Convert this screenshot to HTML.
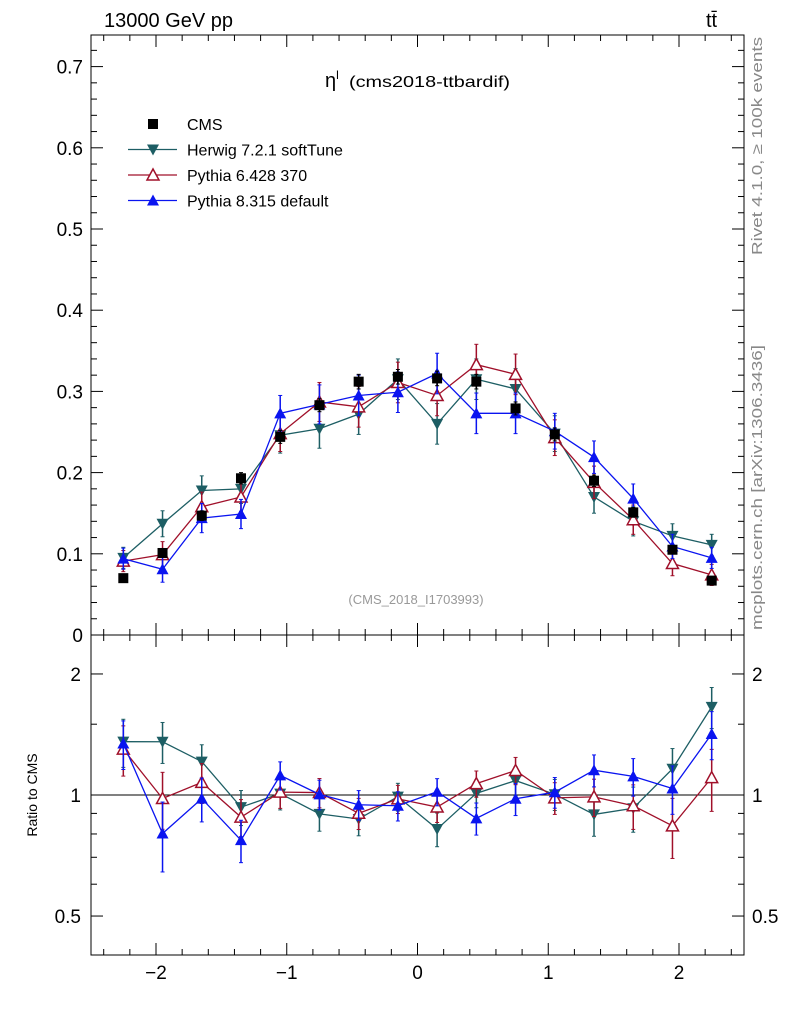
<!DOCTYPE html>
<html><head><meta charset="utf-8"><style>
body{margin:0;background:#fff;width:786px;height:1024px;overflow:hidden}
svg text{font-family:"Liberation Sans",sans-serif}
</style></head><body>
<svg id="c" width="786" height="1024" xmlns="http://www.w3.org/2000/svg">
<text x="104" y="27" font-size="20">13000 GeV pp</text>
<text x="706" y="27" font-size="20">tt̄</text>
<text x="325" y="87" font-size="20">η<tspan font-size="12" dy="-8">l</tspan><tspan font-size="16" dy="8" x="349" textLength="161" lengthAdjust="spacingAndGlyphs">(cms2018-ttbardif)</tspan></text>
<text x="416" y="604" font-size="13" fill="#999" text-anchor="middle">(CMS_2018_I1703993)</text>
<text transform="translate(762,255) rotate(-90)" font-size="15" fill="#888" textLength="218" lengthAdjust="spacingAndGlyphs">Rivet 4.1.0, ≥ 100k events</text>
<text transform="translate(762,630) rotate(-90)" font-size="15" fill="#888" textLength="285" lengthAdjust="spacingAndGlyphs">mcplots.cern.ch [arXiv:1306.3436]</text>
<text transform="translate(37,795) rotate(-90)" font-size="14" text-anchor="middle">Ratio to CMS</text>
<g id="g"></g>
</svg>
<script>
const centers=[-2.25,-1.95,-1.65,-1.35,-1.05,-0.75,-0.45,-0.15,0.15,0.45,0.75,1.05,1.35,1.65,1.95,2.25];
const cmsVals=[0.070,0.101,0.147,0.193,0.244,0.283,0.312,0.318,0.316,0.312,0.279,0.247,0.190,0.151,0.105,0.067];
const cmsErr=[0.004,0.005,0.006,0.007,0.008,0.008,0.009,0.009,0.009,0.009,0.008,0.008,0.007,0.006,0.005,0.004];
const herwigVals=[0.095,0.137,0.178,0.180,0.246,0.254,0.272,0.315,0.260,0.315,0.303,0.248,0.170,0.140,0.122,0.111];
const py6Vals=[0.091,0.099,0.158,0.170,0.248,0.287,0.281,0.311,0.295,0.333,0.321,0.243,0.188,0.142,0.088,0.074];
const py8Vals=[0.094,0.081,0.144,0.149,0.273,0.284,0.295,0.299,0.322,0.273,0.273,0.251,0.219,0.168,0.109,0.095];
const mcErr=[0.013,0.016,0.018,0.018,0.022,0.024,0.025,0.025,0.025,0.025,0.025,0.022,0.020,0.018,0.015,0.013];
const mainTicks=[0,0.1,0.2,0.3,0.4,0.5,0.6,0.7];
const ratioTicks=[0.5,1,2];
const xTicks=[-2,-1,0,1,2];
const L=91,R=744,T1=35,B1=635,T2=635,B2=955;
const X=v=>417.5+v*130.75;
const Y=v=>635-v*812;
const RY=v=>795-Math.log10(v)*(160/Math.log10(2.5));
const NS="http://www.w3.org/2000/svg";
const g=document.getElementById('g');
function el(t,a,p){const e=document.createElementNS(NS,t);for(const k in a)e.setAttribute(k,a[k]);(p||g).appendChild(e);return e;}
const f1=el('rect',{x:L,y:T1,width:R-L,height:B1-T1,fill:'none',stroke:'#000','stroke-width':1});


const f2=el('rect',{x:L,y:T2,width:R-L,height:B2-T2,fill:'none',stroke:'#000','stroke-width':1});


mainTicks.forEach(t=>{const y=Y(t);
el('line',{x1:L,x2:L+12,y1:y,y2:y,stroke:'#000'});el('line',{x1:R,x2:R-12,y1:y,y2:y,stroke:'#000'});
const tx=el('text',{x:L-8,y:y+7,'font-size':19,'text-anchor':'end'});tx.textContent=t===0?'0':t.toFixed(1);


for(let k=1;k<5;k++){const m=Y(t+k*0.02);if(m>T1){el('line',{x1:L,x2:L+6,y1:m,y2:m,stroke:'#000'});el('line',{x1:R,x2:R-6,y1:m,y2:m,stroke:'#000'});}}
});
ratioTicks.forEach(t=>{const y=RY(t);
el('line',{x1:L,x2:L+12,y1:y,y2:y,stroke:'#000'});el('line',{x1:R,x2:R-12,y1:y,y2:y,stroke:'#000'});
const s=t===1?'1':t===2?'2':'0.5';
const a=el('text',{x:L-10,y:y+7,'font-size':19,'text-anchor':'end'});a.textContent=s;


const b=el('text',{x:R+8,y:y+7,'font-size':19});b.textContent=s;


});
[0.4,0.6,0.7,0.8,0.9,1.5].forEach(t=>{const y=RY(t);el('line',{x1:L,x2:L+6,y1:y,y2:y,stroke:'#000'});el('line',{x1:R,x2:R-6,y1:y,y2:y,stroke:'#000'});});
el('line',{x1:L,x2:R,y1:RY(1),y2:RY(1),stroke:'#000'});
for(let v=-2.4;v<=2.41;v+=0.2){const x=X(v);const maj=Math.abs(v-Math.round(v))<0.01;const h=maj?12:6;
[[T1,1],[B1,-1],[T2,1],[B2,-1]].forEach(([y,d])=>el('line',{x1:x,x2:x,y1:y,y2:y+d*h,stroke:'#000'}));}
xTicks.forEach(t=>{const tx=el('text',{x:X(t),y:979,'font-size':19,'text-anchor':'middle'});tx.textContent=t<0?'−'+(-t):String(t);

});
function marker(type,x,y,c,p){
 if(type==='sq')return el('rect',{x:x-5,y:y-5,width:10,height:10,fill:c},p);
 if(type==='down')return el('polygon',{points:`${x-6},${y-5} ${x+6},${y-5} ${x},${y+6}`,fill:c},p);
 if(type==='up')return el('polygon',{points:`${x-6},${y+5} ${x+6},${y+5} ${x},${y-6}`,fill:c},p);
 if(type==='upo')return el('polygon',{points:`${x-6},${y+5} ${x+6},${y+5} ${x},${y-6}`,fill:'#fff',stroke:c,'stroke-width':1.5},p);
}
function series(name,vals,errs,c,mk,line,ratio){
 const grp=el('g',{});
 
 
 const fy=ratio?(i=>RY(vals[i]/cmsVals[i])):(i=>Y(vals[i]));
 const fe=ratio?(i=>errs[i]/cmsVals[i]):(i=>errs[i]);
 const fv=ratio?(i=>vals[i]/cmsVals[i]):(i=>vals[i]);
 const Yf=ratio?RY:Y;
 if(line)el('polyline',{points:centers.map((x,i)=>X(x)+','+fy(i)).join(' '),fill:'none',stroke:c,'stroke-width':1.3},grp);
 centers.forEach((x,i)=>{const px=X(x);const lo=Yf(fv(i)-fe(i)),hi=Yf(fv(i)+fe(i));
  el('line',{x1:px,x2:px,y1:lo,y2:hi,stroke:c,'stroke-width':1.5},grp);
  el('line',{x1:px-2,x2:px+2,y1:lo,y2:lo,stroke:c},grp);el('line',{x1:px-2,x2:px+2,y1:hi,y2:hi,stroke:c},grp);
  marker(mk,px,fy(i),c,grp);});
}
series('herwig',herwigVals,mcErr,'#1d5e64','down',true,false);
series('pythia6',py6Vals,mcErr,'#a0102a','upo',true,false);
series('pythia8',py8Vals,mcErr,'#0a14f0','up',true,false);
series('cms',cmsVals,cmsErr,'#000','sq',false,false);
series('herwig',herwigVals,mcErr,'#1d5e64','down',true,true);
series('pythia6',py6Vals,mcErr,'#a0102a','upo',true,true);
series('pythia8',py8Vals,mcErr,'#0a14f0','up',true,true);
const leg=[['CMS','#000','sq',false],['Herwig 7.2.1 softTune','#1d5e64','down',true],['Pythia 6.428 370','#a0102a','upo',true],['Pythia 8.315 default','#0a14f0','up',true]];
leg.forEach((l,i)=>{const y=124+i*25.5;const lg=el('g',{});
 
 
 if(l[3])el('line',{x1:128,x2:177,y1:y,y2:y,stroke:l[1],'stroke-width':1.3},lg);
 marker(l[2],153,y,l[1],lg);
 const t=el('text',{x:187,y:y+6,'font-size':16},lg);t.textContent=l[0];});
</script>
</body></html>
